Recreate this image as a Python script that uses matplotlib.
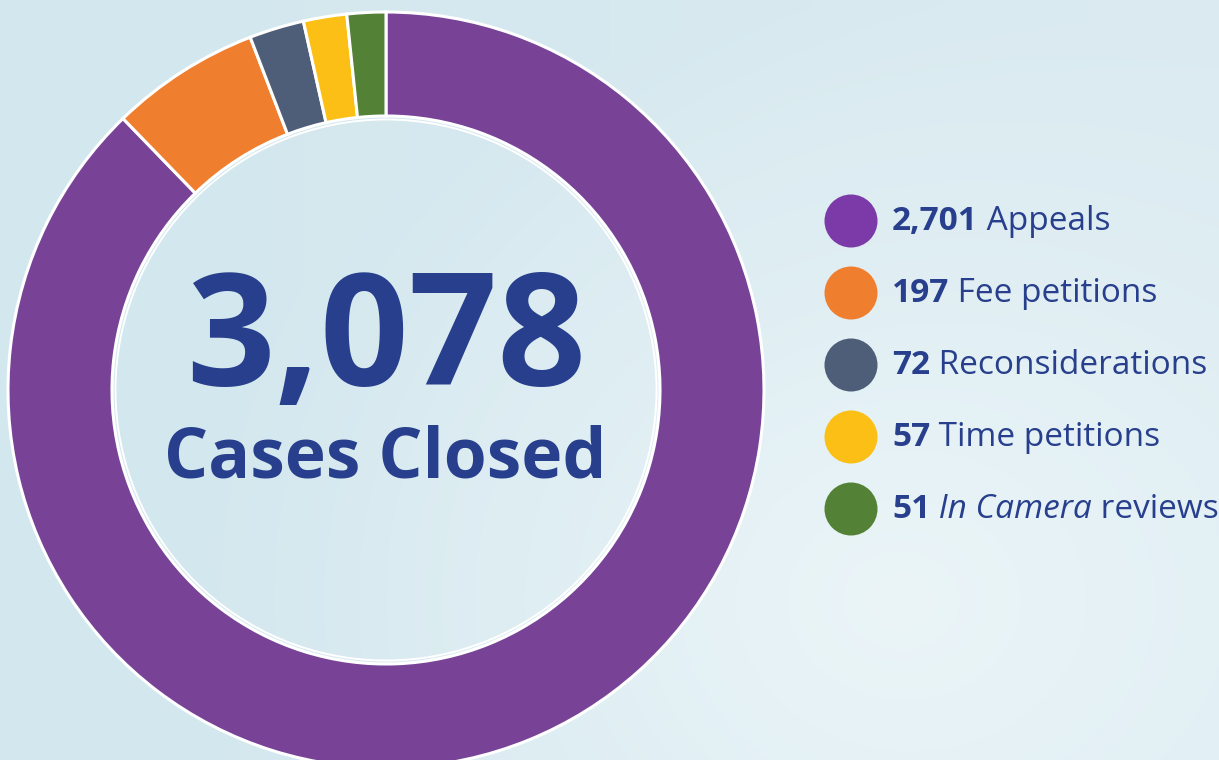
import numpy as np
import matplotlib
matplotlib.use("Agg")
import matplotlib.pyplot as plt
from matplotlib.patches import Circle
from matplotlib.colors import to_rgb

# data
categories = ["Appeals", "Fee petitions", "Reconsiderations", "Time petitions", "In Camera reviews"]
counts = [2701, 197, 72, 57, 51]
colors = ["#784397", "#ef7f2f", "#4f5e78", "#fbbf15", "#538236"]
legend_colors = ["#7b3aa8", "#ef7f2f", "#4f5e78", "#fbbf15", "#538236"]
total_label = "3,078"
total_caption = "Cases Closed"

navy = "#273f8c"
font = "Open Sans"

W, H = 1219, 760
fig = plt.figure(figsize=(W / 100, H / 100), dpi=100)

# soft blue background
bg = fig.add_axes([0, 0, 1, 1])
yy, xx = np.mgrid[0:H, 0:W]
c_left = np.array(to_rgb("#d2e7ee"))
c_right = np.array(to_rgb("#dbebf1"))
c_hi = np.array(to_rgb("#ebf5f8"))
t = (xx / W)[..., None]
img = c_left * (1 - t) + c_right * t
d = np.sqrt(((xx - 900) / 700.0) ** 2 + ((yy - 600) / 600.0) ** 2)
w = np.clip(1 - d, 0, 1)[..., None] ** 1.1
img = img * (1 - w) + c_hi * w
bg.imshow(img, extent=[0, W, H, 0], aspect="auto")
bg.set_axis_off()

ax = fig.add_axes([0, 0, 1, 1])
ax.patch.set_alpha(0)

cx, cy = 386, 390
r_out, r_in = 378, 274

# inverted y axis: counterclock in data = clockwise on screen, start at top
ax.pie(counts, colors=colors, center=(cx, cy), radius=r_out,
       startangle=-90, counterclock=True,
       wedgeprops=dict(width=r_out - r_in, edgecolor="white", linewidth=2.2))
ax.add_patch(Circle((cx, cy), r_in - 3.5, fill=False, edgecolor="white", linewidth=1.4))

ax.set_xlim(0, W)
ax.set_ylim(H, 0)
ax.set_aspect("equal", adjustable="box")
ax.set_axis_off()

# centre labels
ax.text(cx, 385, total_label, ha="center", va="baseline", color=navy,
        fontsize=112, fontweight="bold", family=font)
ax.text(cx - 1, 477, total_caption, ha="center", va="baseline", color=navy,
        fontsize=50, fontweight="bold", family=font)

# legend
renderer = fig.canvas.get_renderer()
row_y = [221, 293, 365, 437, 509]
dot_x, text_x = 851, 892
fs = 24
for i, (cat, n) in enumerate(zip(categories, counts)):
    y = row_y[i]
    ax.add_patch(Circle((dot_x, y), 26.5, color=legend_colors[i], linewidth=0))
    base = y + 9
    t1 = ax.text(text_x, base, f"{n:,}", ha="left", va="baseline", color=navy,
                 fontsize=fs, fontweight="bold", family=font)
    x = t1.get_window_extent(renderer).x1
    if cat == "In Camera reviews":
        parts = [(" In Camera", "italic"), (" reviews", "normal")]
    else:
        parts = [(" " + cat, "normal")]
    for txt, style in parts:
        tt = ax.text(x, base, txt, ha="left", va="baseline", color=navy,
                     fontsize=fs, fontstyle=style, family=font)
        x = tt.get_window_extent(renderer).x1

fig.savefig("out.png", dpi=100)
